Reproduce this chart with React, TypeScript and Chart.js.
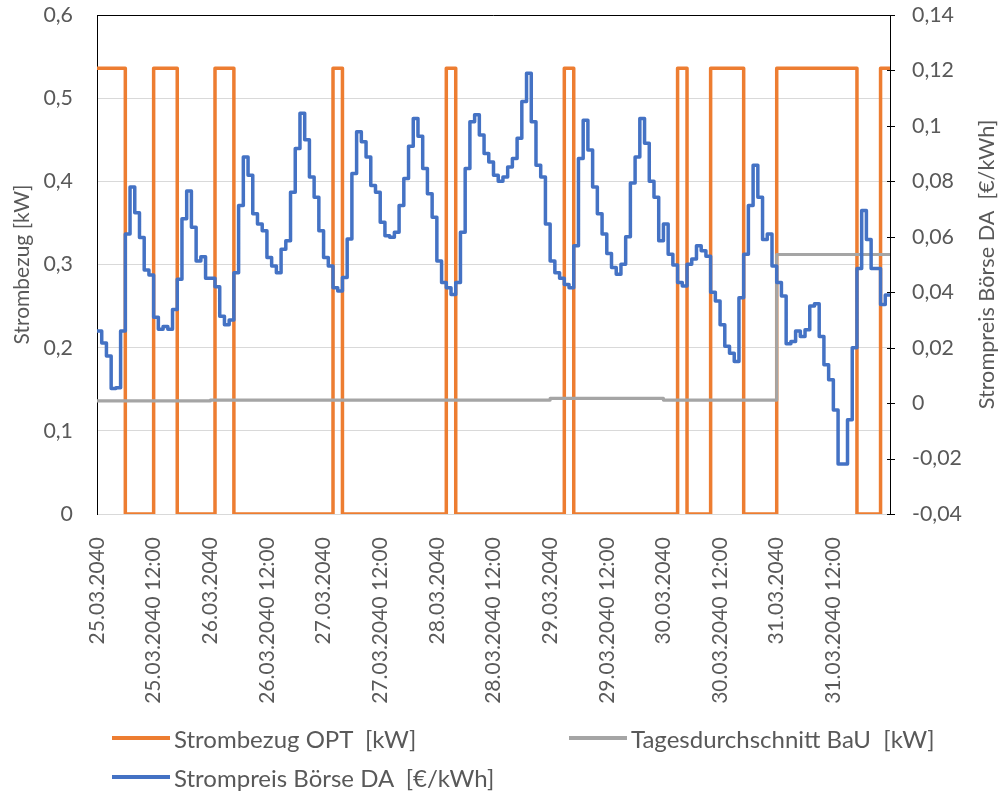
import React, { useEffect, useRef } from 'react';
import { Chart, registerables } from 'chart.js';

Chart.register(...registerables);

// ---------- data ----------
const xTickLabels = [
  '25.03.2040', '25.03.2040 12:00',
  '26.03.2040', '26.03.2040 12:00',
  '27.03.2040', '27.03.2040 12:00',
  '28.03.2040', '28.03.2040 12:00',
  '29.03.2040', '29.03.2040 12:00',
  '30.03.2040', '30.03.2040 12:00',
  '31.03.2040', '31.03.2040 12:00',
];
const leftTickLabels = ['0', '0,1', '0,2', '0,3', '0,4', '0,5', '0,6'];
const rightTickLabels = ['-0,04', '-0,02', '0', '0,02', '0,04', '0,06', '0,08', '0,1', '0,12', '0,14'];

const seriesNames = ['Strombezug OPT  [kW]', 'Tagesdurchschnitt BaU  [kW]', 'Strompreis Börse DA  [€/kWh]'];
const leftAxisTitle = 'Strombezug [kW]';
const rightAxisTitle = 'Strompreis Börse DA  [€/kWh]';

// hourly, 25.03.2040 00:00 ... 31.03.2040 23:00  [kW]
const strombezugOPT = [
  // 25.03
  0.536, 0.536, 0.536, 0.536, 0.536, 0.536, 0, 0, 0, 0, 0, 0,
  0.536, 0.536, 0.536, 0.536, 0.536, 0, 0, 0, 0, 0, 0, 0,
  // 26.03
  0, 0.536, 0.536, 0.536, 0.536, 0, 0, 0, 0, 0, 0, 0,
  0, 0, 0, 0, 0, 0, 0, 0, 0, 0, 0, 0,
  // 27.03
  0, 0, 0.536, 0.536, 0, 0, 0, 0, 0, 0, 0, 0,
  0, 0, 0, 0, 0, 0, 0, 0, 0, 0, 0, 0,
  // 28.03
  0, 0, 0.536, 0.536, 0, 0, 0, 0, 0, 0, 0, 0,
  0, 0, 0, 0, 0, 0, 0, 0, 0, 0, 0, 0,
  // 29.03
  0, 0, 0, 0.536, 0.536, 0, 0, 0, 0, 0, 0, 0,
  0, 0, 0, 0, 0, 0, 0, 0, 0, 0, 0, 0,
  // 30.03
  0, 0, 0, 0.536, 0.536, 0, 0, 0, 0, 0, 0.536, 0.536,
  0.536, 0.536, 0.536, 0.536, 0.536, 0, 0, 0, 0, 0, 0, 0,
  // 31.03
  0.536, 0.536, 0.536, 0.536, 0.536, 0.536, 0.536, 0.536, 0.536, 0.536, 0.536, 0.536,
  0.536, 0.536, 0.536, 0.536, 0.536, 0, 0, 0, 0, 0, 0.536, 0.536,
];

// daily averages 25.03 ... 31.03  [kW]
const tagesdurchschnittBaU = [0.136, 0.137, 0.137, 0.137, 0.139, 0.137, 0.312];

// hourly day-ahead price  [€/kWh]
const strompreisBoerse = [
  // 25.03
  0.026, 0.0217, 0.017, 0.0053, 0.0055, 0.026, 0.061, 0.078, 0.0687, 0.0597, 0.048, 0.0462,
  0.031, 0.0266, 0.0276, 0.0266, 0.0338, 0.0447, 0.0665, 0.0765, 0.0634, 0.0513, 0.0528, 0.045,
  // 26.03
  0.045, 0.042, 0.0313, 0.0283, 0.030, 0.047, 0.0713, 0.0888, 0.0822, 0.0683, 0.0646, 0.0622,
  0.0525, 0.0495, 0.047, 0.0555, 0.0586, 0.0761, 0.0918, 0.1046, 0.095, 0.0816, 0.0743, 0.0622,
  // 27.03
  0.0525, 0.0495, 0.0416, 0.0404, 0.0453, 0.0592, 0.0828, 0.0979, 0.0943, 0.0888, 0.0785, 0.0761,
  0.0652, 0.0604, 0.0598, 0.0616, 0.0713, 0.081, 0.0927, 0.1027, 0.0963, 0.0846, 0.0755, 0.067,
  // 28.03
  0.0513, 0.0435, 0.0416, 0.0392, 0.0435, 0.0616, 0.0846, 0.1015, 0.104, 0.0967, 0.090, 0.087,
  0.0822, 0.080, 0.0816, 0.0852, 0.0882, 0.0955, 0.1088, 0.119, 0.1015, 0.0858, 0.0816, 0.0646,
  // 29.03
  0.0513, 0.047, 0.045, 0.0428, 0.0416, 0.0568, 0.0882, 0.102, 0.0913, 0.078, 0.0683, 0.061,
  0.054, 0.0489, 0.0465, 0.0501, 0.060, 0.0794, 0.0888, 0.1027, 0.0937, 0.080, 0.0743, 0.0586,
  // 30.03
  0.0646, 0.0537, 0.0498, 0.0435, 0.0422, 0.0501, 0.052, 0.0568, 0.055, 0.053, 0.040, 0.0368,
  0.0283, 0.0205, 0.018, 0.015, 0.038, 0.0537, 0.0713, 0.0858, 0.0743, 0.059, 0.061, 0.0495,
  // 31.03
  0.0435, 0.0386, 0.0214, 0.0222, 0.026, 0.024, 0.0265, 0.035, 0.0358, 0.024, 0.0138, 0.0084,
  -0.0025, -0.022, -0.022, -0.006, 0.020, 0.0486, 0.0695, 0.059, 0.0486, 0.0486, 0.0356, 0.039,
];

// ---------- styling ----------
const W = 1004;
const H = 792;
const FONT = "Lato, 'Liberation Sans', sans-serif";
const TEXT = '#595959';
const ORANGE = '#ED7D31';
const GRAY = '#A5A5A5';
const BLUE = '#4472C4';

function fitSize(text: string, target: number): number {
  const c = document.createElement('canvas').getContext('2d')!;
  c.font = `100px ${FONT}`;
  return (100 * target) / c.measureText(text).width;
}

function hourlyPoints(values: number[]) {
  const pts = values.map((v, i) => ({ x: i, y: v }));
  pts.push({ x: values.length, y: values[values.length - 1] });
  return pts;
}

function dailyPoints(values: number[]) {
  const pts = values.map((v, i) => ({ x: i * 24, y: v }));
  pts.push({ x: values.length * 24, y: values[values.length - 1] });
  return pts;
}

export default function App() {
  const canvasRef = useRef<HTMLCanvasElement | null>(null);
  const sizes = useRef({
    xTick: 22,
    yTick: 22,
    leftTitle: 22,
    rightTitle: 22,
    legend: 24,
  });

  if (typeof document !== 'undefined') {
    sizes.current = {
      xTick: fitSize('25.03.2040 12:00', 167),
      yTick: fitSize('0,14', 42),
      leftTitle: fitSize(leftAxisTitle, 160),
      rightTitle: fitSize(rightAxisTitle, 290),
      legend: fitSize(seriesNames[0], 243),
    };
  }

  useEffect(() => {
    document.body.style.margin = '0';
    document.body.style.background = '#ffffff';
    const canvas = canvasRef.current;
    if (!canvas) return;
    const s = sizes.current;

    const axisDecor = {
      id: 'axisDecor',
      afterDraw(chart: any) {
        const ctx = chart.ctx as CanvasRenderingContext2D;
        const ca = chart.chartArea;
        const cy = (ca.top + ca.bottom) / 2;

        // top border of the plot area
        ctx.save();
        ctx.strokeStyle = '#000000';
        ctx.lineWidth = 1;
        ctx.beginPath();
        ctx.moveTo(ca.left, Math.round(ca.top) + 0.5);
        ctx.lineTo(ca.right, Math.round(ca.top) + 0.5);
        ctx.stroke();

        // crossing tick marks on the secondary axis
        const y1 = chart.scales.y1;
        y1.ticks.forEach((t: any) => {
          const py = Math.round(y1.getPixelForValue(t.value)) + 0.5;
          ctx.beginPath();
          ctx.moveTo(ca.right - 3, py);
          ctx.lineTo(ca.right + 5, py);
          ctx.stroke();
        });
        ctx.restore();

        ctx.save();
        ctx.fillStyle = TEXT;
        ctx.textAlign = 'center';
        ctx.textBaseline = 'middle';
        ctx.font = `${s.leftTitle}px ${FONT}`;
        ctx.translate(22, cy);
        ctx.rotate(-Math.PI / 2);
        ctx.fillText(leftAxisTitle, 0, 0);
        ctx.restore();

        ctx.save();
        ctx.fillStyle = TEXT;
        ctx.textAlign = 'center';
        ctx.textBaseline = 'middle';
        ctx.font = `${s.rightTitle}px ${FONT}`;
        ctx.translate(987, cy);
        ctx.rotate(-Math.PI / 2);
        ctx.fillText(rightAxisTitle, 0, 0);
        ctx.restore();
      },
    };

    const chart = new Chart(canvas, {
      type: 'line',
      data: {
        datasets: [
          {
            label: seriesNames[2],
            data: hourlyPoints(strompreisBoerse),
            yAxisID: 'y1',
            borderColor: BLUE,
            backgroundColor: BLUE,
            borderWidth: 3.5,
            stepped: true,
            pointRadius: 0,
            borderJoinStyle: 'round',
            borderCapStyle: 'round',
            order: 0,
          },
          {
            label: seriesNames[1],
            data: dailyPoints(tagesdurchschnittBaU),
            yAxisID: 'y',
            borderColor: GRAY,
            backgroundColor: GRAY,
            borderWidth: 3.2,
            stepped: true,
            pointRadius: 0,
            borderJoinStyle: 'round',
            order: 1,
          },
          {
            label: seriesNames[0],
            data: hourlyPoints(strombezugOPT),
            yAxisID: 'y',
            borderColor: ORANGE,
            backgroundColor: ORANGE,
            borderWidth: 3.5,
            stepped: true,
            pointRadius: 0,
            borderJoinStyle: 'round',
            borderCapStyle: 'round',
            order: 2,
          },
        ],
      } as any,
      options: {
        responsive: false,
        animation: false,
        devicePixelRatio: 1,
        layout: { padding: { top: 15, left: 0, right: 0, bottom: 0 } },
        plugins: {
          legend: { display: false },
          tooltip: { enabled: false },
          title: { display: false },
        },
        scales: {
          x: {
            type: 'linear',
            min: 0,
            max: 168,
            afterFit: (sc: any) => {
              sc.height = H - 514;
            },
            ticks: {
              stepSize: 12,
              autoSkip: false,
              maxRotation: 90,
              minRotation: 90,
              padding: 23,
              color: TEXT,
              font: { family: FONT, size: s.xTick },
              callback: (v: any) => {
                const i = Math.round(Number(v) / 12);
                return xTickLabels[i] ?? '';
              },
            },
            grid: { display: false, drawTicks: false },
            border: { display: true, color: '#D9D9D9', width: 1 },
          },
          y: {
            position: 'left',
            min: 0,
            max: 0.6,
            afterFit: (sc: any) => {
              sc.width = 97;
            },
            ticks: {
              stepSize: 0.1,
              padding: 0,
              color: TEXT,
              font: { family: FONT, size: s.yTick },
              callback: (_v: any, i: number) => leftTickLabels[i] ?? '',
            },
            grid: {
              color: '#D9D9D9',
              lineWidth: 1,
              drawTicks: true,
              tickLength: 24,
              tickColor: 'rgba(0,0,0,0)',
            },
            border: { display: true, color: '#000000', width: 1 },
          },
          y1: {
            position: 'right',
            min: -0.04,
            max: 0.14,
            afterFit: (sc: any) => {
              sc.width = W - 890;
            },
            ticks: {
              stepSize: 0.02,
              padding: 0,
              color: TEXT,
              font: { family: FONT, size: s.yTick },
              callback: (_v: any, i: number) => rightTickLabels[i] ?? '',
            },
            grid: {
              drawOnChartArea: false,
              drawTicks: true,
              tickLength: 22,
              tickColor: 'rgba(0,0,0,0)',
              color: 'rgba(0,0,0,0)',
            },
            border: { display: true, color: '#000000', width: 1 },
          },
        },
      } as any,
      plugins: [axisDecor],
    });

    return () => {
      chart.destroy();
    };
  }, []);

  const legendFont = sizes.current.legend;
  const itemStyle = (left: number, cy: number): React.CSSProperties => ({
    position: 'absolute',
    left,
    top: cy - 20,
    height: 40,
    display: 'flex',
    alignItems: 'center',
    whiteSpace: 'pre',
    fontFamily: FONT,
    fontSize: legendFont,
    color: TEXT,
  });
  const swatch = (color: string): React.CSSProperties => ({
    display: 'inline-block',
    width: 58,
    height: 3.5,
    background: color,
    marginRight: 4,
  });

  return (
    <div style={{ position: 'relative', width: W, height: H, background: '#ffffff', overflow: 'hidden' }}>
      <canvas ref={canvasRef} width={W} height={H} style={{ position: 'absolute', left: 0, top: 0, width: W, height: H }} />
      <div style={itemStyle(112, 738)}>
        <span style={swatch(ORANGE)} />
        <span>{seriesNames[0]}</span>
      </div>
      <div style={itemStyle(569, 738)}>
        <span style={swatch(GRAY)} />
        <span>{seriesNames[1]}</span>
      </div>
      <div style={itemStyle(112, 777)}>
        <span style={swatch(BLUE)} />
        <span>{seriesNames[2]}</span>
      </div>
    </div>
  );
}
